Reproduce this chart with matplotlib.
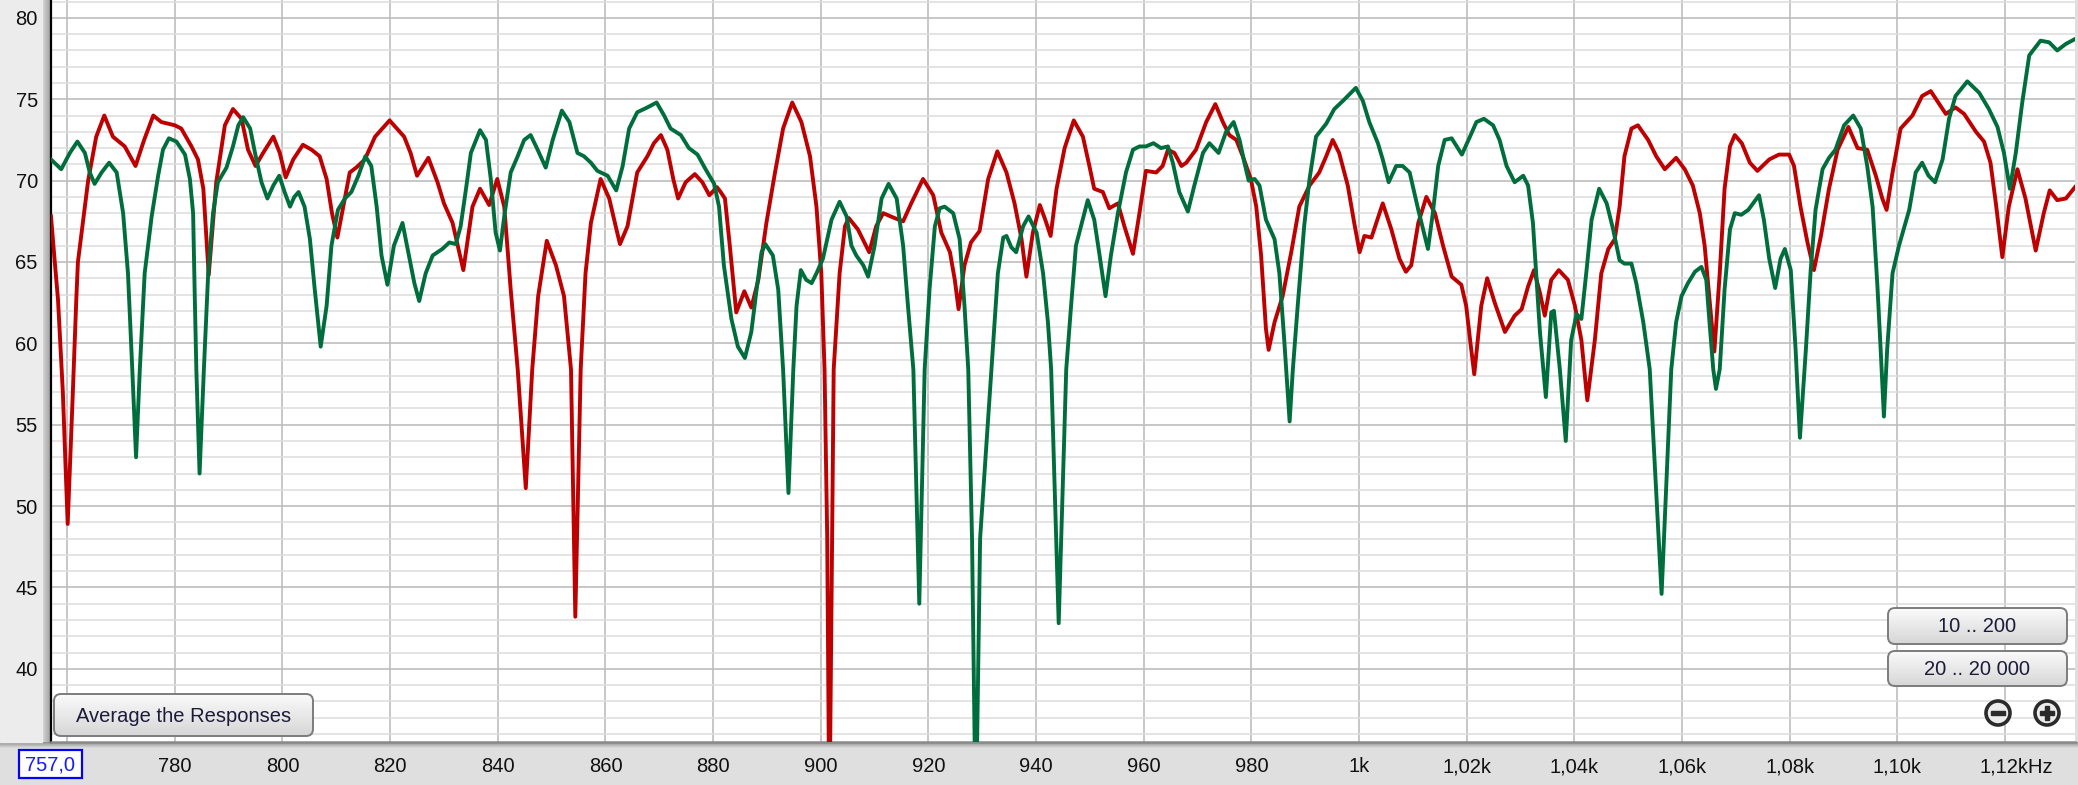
"""REW style overlay of two SPL measurements, 757 Hz .. 1.13 kHz, linear axis."""

import matplotlib

matplotlib.use("Agg")
import matplotlib.pyplot as plt
import numpy as np
from matplotlib.patches import Circle, FancyBboxPatch, Rectangle
from matplotlib.transforms import ScaledTranslation

plt.rcParams["font.family"] = ["Liberation Sans", "DejaVu Sans"]

FIG_W, FIG_H = 2078, 785
PLOT_LEFT, PLOT_RIGHT, PLOT_BOTTOM = 51, 2075, 742

# --- measurement 1 (red) -------------------------------------------------
red_freq = [
    757.0, 757.7, 758.3, 759.2, 760.1, 761.0, 761.7, 762.0, 763.9, 765.4,
    766.9, 768.5, 770.7, 772.7, 774.3, 776.0, 777.5, 780.0, 781.2, 783.1,
    784.3, 785.3, 786.3, 787.7, 789.3, 790.8, 792.4, 793.6, 795.0, 796.4,
    798.3, 799.5, 800.6, 802.0, 803.8, 805.4, 806.9, 808.2, 809.2, 810.2,
    811.3, 812.5, 813.7, 815.3, 817.2, 819.9, 822.6, 823.8, 825.0, 827.1,
    828.8, 830.0, 831.6, 833.6, 835.3, 836.7, 838.4, 839.9, 841.2, 842.4,
    843.7, 845.2, 846.4, 847.5, 849.1, 850.8, 852.3, 853.6, 854.4, 855.4,
    856.3, 857.3, 859.1, 860.7, 861.9, 862.7, 864.1, 865.9, 867.8, 869.0,
    870.3, 871.5, 872.6, 873.5, 874.9, 876.6, 878.0, 879.3, 880.7, 881.4,
    882.2, 883.1, 884.3, 885.8, 887.1, 888.4, 889.9, 891.5, 893.0, 894.7,
    896.4, 898.0, 899.2, 900.1, 900.7, 901.2, 901.6, 902.1, 902.4, 903.5,
    904.5, 905.2, 906.9, 909.0, 910.3, 911.6, 913.7, 915.3, 916.8, 919.0,
    920.9, 922.4, 924.0, 924.9, 925.6, 926.7, 927.9, 929.5, 931.1, 932.8,
    934.5, 936.0, 937.3, 938.2, 939.4, 940.7, 941.7, 942.7, 943.8, 945.3,
    947.0, 948.7, 949.9, 950.8, 952.4, 953.6, 955.2, 956.4, 958.0, 959.2,
    960.4, 962.3, 963.5, 964.5, 965.7, 967.0, 967.9, 969.7, 971.6, 973.3,
    974.7, 975.9, 977.2, 978.4, 979.9, 980.9, 981.8, 982.7, 983.2, 984.3,
    985.8, 987.4, 988.9, 990.8, 992.6, 993.9, 995.1, 996.3, 997.9, 999.1,
    1000.1, 1001.0, 1002.3, 1004.4, 1006.0, 1007.5, 1008.7, 1009.7, 1011.0, 1012.5,
    1014.1, 1015.6, 1017.2, 1019.0, 1019.9, 1020.7, 1021.4, 1022.7, 1023.8, 1025.2,
    1027.1, 1028.9, 1030.2, 1031.4, 1032.5, 1033.6, 1034.5, 1035.7, 1037.1, 1038.8,
    1040.1, 1041.3, 1042.4, 1043.8, 1045.0, 1046.3, 1047.5, 1048.4, 1049.3, 1050.6,
    1051.8, 1053.7, 1055.2, 1056.8, 1058.9, 1060.5, 1062.0, 1063.3, 1064.2, 1065.1,
    1066.0, 1067.0, 1067.9, 1068.9, 1069.8, 1071.1, 1072.6, 1074.0, 1076.2, 1078.0,
    1079.9, 1080.8, 1082.0, 1083.3, 1084.5, 1085.8, 1087.3, 1088.9, 1090.9, 1092.6,
    1094.4, 1096.0, 1097.2, 1098.0, 1099.1, 1100.6, 1102.8, 1104.6, 1106.2, 1107.4,
    1109.0, 1110.8, 1112.4, 1114.6, 1116.1, 1117.3, 1118.3, 1119.5, 1120.7, 1122.3,
    1123.8, 1125.7, 1127.2, 1128.3, 1129.7, 1131.3, 1133.0,
]
red_db = [
    67.8, 65.0, 62.7, 57.0, 48.9, 56.5, 62.7, 65.0, 70.0, 72.7,
    74.0, 72.7, 72.1, 70.9, 72.5, 74.0, 73.6, 73.4, 73.2, 72.1,
    71.3, 69.5, 64.2, 69.9, 73.4, 74.4, 73.8, 71.9, 70.9, 71.7,
    72.7, 71.7, 70.2, 71.3, 72.2, 71.9, 71.5, 70.1, 68.0, 66.5,
    68.4, 70.5, 70.8, 71.3, 72.7, 73.7, 72.7, 71.7, 70.3, 71.4,
    69.9, 68.6, 67.4, 64.5, 68.4, 69.5, 68.5, 70.1, 68.4, 63.3,
    58.4, 51.1, 58.4, 62.9, 66.3, 64.8, 62.9, 58.4, 43.2, 58.4,
    64.3, 67.4, 70.1, 68.9, 67.2, 66.1, 67.2, 70.5, 71.5, 72.3,
    72.8, 71.9, 70.1, 68.9, 69.9, 70.4, 69.9, 69.1, 69.6, 69.3,
    68.9, 66.0, 61.9, 63.2, 62.2, 63.9, 67.4, 70.5, 73.2, 74.8,
    73.6, 71.5, 68.4, 64.3, 58.4, 48.0, 30.0, 48.0, 58.4, 64.3,
    67.2, 67.7, 67.0, 65.6, 67.2, 68.0, 67.7, 67.5, 68.6, 70.1,
    69.1, 66.8, 65.6, 63.9, 62.1, 64.8, 66.2, 66.9, 70.1, 71.8,
    70.5, 68.6, 66.4, 64.1, 66.8, 68.5, 67.6, 66.6, 69.5, 72.0,
    73.7, 72.7, 70.9, 69.5, 69.3, 68.3, 68.6, 67.2, 65.5, 68.0,
    70.6, 70.5, 70.9, 71.9, 71.7, 70.9, 71.1, 71.9, 73.6, 74.7,
    73.6, 72.8, 72.5, 71.5, 70.1, 68.4, 65.4, 60.9, 59.6, 61.3,
    62.9, 65.6, 68.4, 69.7, 70.5, 71.5, 72.5, 71.7, 69.7, 67.4,
    65.6, 66.6, 66.5, 68.6, 67.0, 65.2, 64.4, 64.8, 67.4, 69.0,
    68.0, 66.0, 64.1, 63.6, 62.3, 60.0, 58.1, 62.3, 64.0, 62.5,
    60.7, 61.7, 62.1, 63.5, 64.5, 63.1, 61.7, 63.9, 64.5, 63.9,
    62.3, 60.2, 56.5, 60.2, 64.3, 65.8, 66.4, 68.4, 71.5, 73.2,
    73.4, 72.5, 71.5, 70.7, 71.4, 70.7, 69.7, 68.0, 66.0, 62.7,
    59.5, 64.3, 69.5, 72.1, 72.8, 72.3, 71.1, 70.6, 71.3, 71.6,
    71.6, 70.9, 68.4, 66.2, 64.5, 66.6, 69.5, 71.9, 73.3, 72.0,
    71.9, 70.3, 68.9, 68.2, 70.5, 73.2, 74.0, 75.2, 75.5, 74.9,
    74.1, 74.5, 74.1, 73.0, 72.4, 71.1, 68.6, 65.3, 68.4, 70.7,
    68.9, 65.7, 68.0, 69.4, 68.8, 68.9, 69.6,
]

# --- measurement 2 (green) -----------------------------------------------
green_freq = [
    757.0, 758.9, 760.5, 761.9, 763.3, 764.2, 765.1, 766.4, 767.8, 769.2,
    770.4, 771.3, 772.1, 772.8, 773.5, 774.4, 775.7, 776.9, 777.8, 778.9,
    780.3, 781.9, 782.8, 783.4, 783.7, 784.0, 784.6, 785.4, 786.2, 787.1,
    788.0, 789.6, 790.8, 791.8, 792.7, 794.0, 794.9, 796.1, 797.2, 798.3,
    799.4, 800.4, 801.4, 802.2, 803.0, 804.1, 805.1, 806.0, 807.1, 808.2,
    809.1, 810.3, 811.6, 812.8, 814.1, 815.4, 816.5, 817.5, 818.4, 819.5,
    820.7, 822.3, 823.5, 824.5, 825.4, 826.6, 827.9, 829.7, 831.0, 832.2,
    833.1, 834.1, 835.0, 836.7, 837.8, 838.7, 839.6, 840.4, 841.2, 842.4,
    843.7, 844.9, 846.1, 847.4, 848.9, 850.2, 851.9, 853.3, 854.8, 856.0,
    857.3, 858.5, 860.4, 862.0, 863.2, 864.4, 865.9, 867.8, 869.5, 870.9,
    872.1, 874.0, 875.5, 877.1, 878.6, 880.2, 881.1, 882.0, 883.4, 884.6,
    885.9, 887.1, 888.0, 889.0, 889.7, 891.1, 892.1, 893.0, 894.0, 894.9,
    895.5, 896.3, 897.3, 898.3, 899.2, 900.4, 902.0, 903.5, 904.8, 905.7,
    906.6, 907.9, 908.8, 910.0, 911.3, 912.6, 914.1, 915.3, 916.2, 917.2,
    918.3, 919.3, 920.2, 921.2, 922.1, 923.0, 924.6, 925.8, 926.7, 927.4,
    928.1, 928.8, 929.6, 931.7, 932.9, 933.9, 934.5, 935.4, 936.3, 937.6,
    938.6, 940.1, 941.3, 942.2, 942.8, 944.2, 945.6, 946.5, 947.4, 949.6,
    950.8, 951.8, 952.9, 953.9, 955.2, 956.7, 958.0, 959.2, 960.4, 961.8,
    963.2, 964.5, 965.4, 966.6, 968.2, 969.4, 971.0, 972.2, 973.9, 975.3,
    976.7, 977.8, 978.7, 979.5, 980.6, 981.5, 982.7, 984.3, 985.2, 986.1,
    987.1, 987.7, 988.6, 989.8, 990.8, 992.0, 993.9, 995.4, 997.0, 999.4,
    1000.7, 1001.9, 1003.5, 1004.4, 1005.5, 1006.9, 1008.1, 1009.4, 1011.0, 1012.8,
    1013.7, 1014.7, 1015.9, 1017.2, 1019.1, 1020.6, 1021.8, 1023.2, 1024.9, 1026.1,
    1027.4, 1028.9, 1030.5, 1031.4, 1032.3, 1032.9, 1033.6, 1034.7, 1035.7, 1036.2,
    1037.3, 1038.4, 1039.4, 1040.4, 1041.3, 1042.2, 1043.2, 1044.6, 1046.0, 1047.2,
    1048.4, 1049.3, 1050.6, 1051.5, 1052.8, 1054.0, 1056.2, 1058.0, 1058.9, 1059.9,
    1061.1, 1062.4, 1063.6, 1064.5, 1065.1, 1065.8, 1066.3, 1067.0, 1067.9, 1068.9,
    1069.8, 1071.0, 1072.3, 1074.3, 1075.2, 1076.2, 1077.3, 1078.3, 1079.1, 1080.2,
    1081.1, 1081.9, 1083.0, 1083.9, 1084.8, 1086.1, 1087.3, 1088.5, 1090.1, 1091.8,
    1093.2, 1094.4, 1095.4, 1096.3, 1096.9, 1097.5, 1098.1, 1099.1, 1100.3, 1102.2,
    1103.4, 1104.6, 1105.8, 1107.0, 1108.4, 1109.6, 1110.8, 1113.0, 1115.2, 1117.0,
    1118.6, 1119.8, 1120.9, 1122.0, 1123.2, 1124.5, 1126.6, 1128.2, 1129.7, 1131.3,
    1133.0,
]
green_db = [
    71.3, 70.7, 71.7, 72.4, 71.7, 70.5, 69.8, 70.5, 71.1, 70.5,
    68.0, 64.3, 58.4, 53.0, 58.4, 64.3, 67.8, 70.3, 71.9, 72.6,
    72.4, 71.6, 70.1, 68.0, 63.0, 58.4, 52.0, 58.4, 64.3, 68.0,
    69.9, 70.8, 72.1, 73.4, 73.9, 73.2, 71.7, 69.9, 68.9, 69.7,
    70.3, 69.3, 68.4, 69.0, 69.3, 68.4, 66.4, 63.3, 59.8, 62.3,
    66.0, 68.2, 68.9, 69.3, 70.3, 71.5, 70.9, 68.4, 65.4, 63.6,
    66.0, 67.4, 65.4, 63.7, 62.6, 64.3, 65.4, 65.8, 66.2, 66.1,
    67.2, 69.5, 71.7, 73.1, 72.5, 70.1, 66.8, 65.7, 67.8, 70.5,
    71.5, 72.5, 72.8, 71.9, 70.8, 72.5, 74.3, 73.6, 71.7, 71.5,
    71.1, 70.6, 70.3, 69.4, 70.9, 73.2, 74.2, 74.5, 74.8, 74.0,
    73.2, 72.8, 72.0, 71.6, 70.7, 69.8, 68.4, 64.8, 61.5, 59.8,
    59.1, 60.7, 63.1, 65.6, 66.1, 65.4, 63.3, 58.4, 50.8, 58.4,
    62.3, 64.5, 63.9, 63.7, 64.3, 65.2, 67.6, 68.7, 67.8, 66.0,
    65.4, 64.8, 64.1, 66.0, 68.9, 69.8, 68.9, 66.0, 62.3, 58.4,
    44.0, 58.4, 63.3, 67.2, 68.3, 68.4, 68.0, 66.4, 62.3, 58.4,
    48.0, 30.0, 48.0, 58.4, 64.3, 66.5, 66.6, 65.9, 65.6, 67.2,
    67.8, 66.8, 64.3, 61.3, 58.4, 42.8, 58.4, 62.3, 66.0, 68.8,
    67.6, 65.4, 62.9, 65.4, 68.0, 70.5, 71.9, 72.1, 72.1, 72.3,
    72.0, 72.1, 71.1, 69.3, 68.1, 69.7, 71.7, 72.3, 71.7, 73.0,
    73.6, 72.5, 71.1, 70.0, 70.1, 69.7, 67.6, 66.4, 64.3, 60.2,
    55.2, 58.4, 62.3, 67.2, 70.1, 72.7, 73.5, 74.4, 74.9, 75.7,
    74.9, 73.6, 72.3, 71.3, 69.9, 70.9, 70.9, 70.5, 68.2, 65.8,
    68.0, 70.9, 72.5, 72.6, 71.6, 72.7, 73.6, 73.8, 73.4, 72.5,
    70.9, 69.9, 70.3, 69.7, 67.4, 64.3, 60.7, 56.7, 61.9, 62.0,
    58.4, 54.0, 60.2, 61.8, 61.5, 64.3, 67.6, 69.5, 68.6, 67.0,
    65.1, 64.9, 64.9, 63.7, 61.3, 58.4, 44.6, 58.4, 61.3, 62.9,
    63.7, 64.4, 64.7, 63.9, 61.3, 58.4, 57.2, 58.4, 63.3, 67.0,
    68.0, 67.9, 68.2, 69.1, 67.6, 65.2, 63.4, 65.2, 65.8, 64.5,
    59.6, 54.2, 59.6, 64.5, 68.2, 70.7, 71.4, 71.9, 73.4, 74.0,
    73.2, 70.9, 68.4, 63.5, 59.6, 55.5, 59.6, 64.3, 66.0, 68.2,
    70.5, 71.1, 70.3, 69.9, 71.3, 73.8, 75.2, 76.1, 75.4, 74.4,
    73.3, 71.7, 69.5, 71.7, 74.8, 77.7, 78.6, 78.5, 78.0, 78.4,
    78.7,
]

# --- axes -------------------------------------------------------------------
x_ticks = [760, 780, 800, 820, 840, 860, 880, 900, 920, 940, 960, 980,
           1000, 1020, 1040, 1060, 1080, 1100, 1120]
x_tick_labels = ["", "780", "800", "820", "840", "860", "880", "900", "920",
                 "940", "960", "980", "1k", "1,02k", "1,04k", "1,06k",
                 "1,08k", "1,10k", "1,12kHz"]
y_ticks = [40, 45, 50, 55, 60, 65, 70, 75, 80]
x_range = (757.0, 1133.0)
y_range = (35.5, 81.1)

RED = "#be0000"
GREEN = "#006e3c"


def pixel_axes(fig, zorder):
    """Full-figure axes addressed in pixels, origin top-left."""
    ax = fig.add_axes([0, 0, 1, 1], zorder=zorder)
    ax.set_xlim(0, FIG_W)
    ax.set_ylim(FIG_H, 0)
    ax.axis("off")
    ax.patch.set_alpha(0)
    return ax


def gradient(ax, x0, x1, y0, y1, start, stop, horizontal=False):
    vals = np.linspace(start, stop, 64)
    img = vals[None, :] if horizontal else vals[:, None]
    return ax.imshow(img, cmap="gray", vmin=0, vmax=1, extent=(x0, x1, y1, y0),
                     aspect="auto", interpolation="bilinear")


def draw_button(ax, x0, y0, x1, y1, label):
    box = FancyBboxPatch((x0, y0), x1 - x0, y1 - y0,
                         boxstyle="round,pad=0,rounding_size=7",
                         facecolor="none", edgecolor="#7c7c7c", linewidth=1.4,
                         zorder=3)
    ax.add_patch(box)
    im = gradient(ax, x0, x1, y0, y1, 0.98, 0.84)
    im.set_clip_path(box)
    im.set_zorder(2)
    ax.text((x0 + x1) / 2, (y0 + y1) / 2 + 1, label, ha="center", va="center",
            fontsize=14.5, color="#1c1c3a", zorder=4)


def draw_zoom_icon(ax, cx, cy, plus):
    ax.add_patch(Circle((cx, cy), 12, facecolor="#ececec", edgecolor="#2b2b2b",
                        linewidth=2.6, zorder=3))
    ax.add_patch(Rectangle((cx - 7, cy - 2.2), 14, 4.4, color="#2b2b2b", zorder=4))
    if plus:
        ax.add_patch(Rectangle((cx - 2.2, cy - 7), 4.4, 14, color="#2b2b2b", zorder=4))


fig = plt.figure(figsize=(FIG_W / 100, FIG_H / 100), dpi=100)
fig.patch.set_facecolor("#dfdfdf")

# window chrome behind the plot
bg = pixel_axes(fig, 0)
bg.add_patch(Rectangle((0, 0), 42, PLOT_BOTTOM, color="#ececec"))
gradient(bg, 40, PLOT_LEFT, 0, PLOT_BOTTOM, 0.90, 0.62, horizontal=True)
gradient(bg, 0, FIG_W, PLOT_BOTTOM, PLOT_BOTTOM + 6, 0.55, 0.87)
bg.set_xlim(0, FIG_W)
bg.set_ylim(FIG_H, 0)

# plot area
ax = fig.add_axes([PLOT_LEFT / FIG_W, 1 - PLOT_BOTTOM / FIG_H,
                   (PLOT_RIGHT - PLOT_LEFT) / FIG_W, PLOT_BOTTOM / FIG_H],
                  zorder=2)
ax.set_facecolor("white")
ax.plot(red_freq, red_db, color=RED, linewidth=2.8, solid_joinstyle="round",
        zorder=3)
ax.plot(green_freq, green_db, color=GREEN, linewidth=2.8,
        solid_joinstyle="round", zorder=4)

ax.set_xlim(*x_range)
ax.set_ylim(*y_range)
ax.set_xticks(x_ticks, x_tick_labels)
ax.set_yticks(y_ticks, [str(v) for v in y_ticks])
ax.set_yticks(np.arange(36, 82), minor=True)
ax.grid(which="minor", axis="y", color="#dcdcdc", linewidth=1.1, zorder=0)
ax.grid(which="major", axis="both", color="#bdbdbd", linewidth=1.2, zorder=1)
ax.set_axisbelow(True)
ax.tick_params(which="both", length=0, labelsize=14.5, colors="#111111")
ax.tick_params(axis="x", pad=11)
ax.tick_params(axis="y", pad=9.5)

# the last label keeps its number centred on the gridline, unit appended
last = ax.get_xticklabels()[-1]
last.set_ha("left")
last.set_transform(last.get_transform()
                   + ScaledTranslation(-0.26, 0, fig.dpi_scale_trans))

for side in ("top", "right"):
    ax.spines[side].set_visible(False)
ax.spines["left"].set_color("black")
ax.spines["left"].set_linewidth(1.6)
ax.spines["bottom"].set_color("#8a8a8a")
ax.spines["bottom"].set_linewidth(1.8)

# controls drawn over the plot
ov = pixel_axes(fig, 5)
draw_button(ov, 54, 694, 313, 736, "Average the Responses")
draw_button(ov, 1888, 608, 2067, 644, "10 .. 200")
draw_button(ov, 1888, 651, 2067, 686, "20 .. 20 000")
draw_zoom_icon(ov, 1998, 713, plus=False)
draw_zoom_icon(ov, 2047, 713, plus=True)
ov.add_patch(Rectangle((19, 750), 63, 28, facecolor="white",
                       edgecolor="#0000ff", linewidth=1.6, zorder=3))
ov.text(50.5, 765, f"{x_range[0]:.1f}".replace(".", ","), ha="center",
        va="center", fontsize=14.5, color="#1a1aff", zorder=4)
ov.set_xlim(0, FIG_W)
ov.set_ylim(FIG_H, 0)

fig.savefig("out.png", dpi=100, facecolor=fig.get_facecolor())
